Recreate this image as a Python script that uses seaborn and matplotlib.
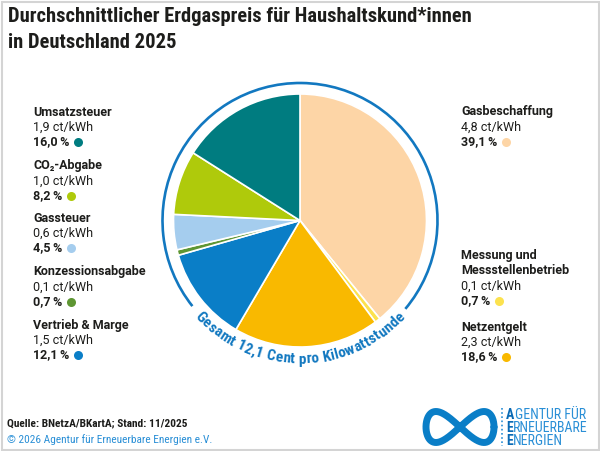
import numpy as np
import matplotlib
matplotlib.use("Agg")
import matplotlib.pyplot as plt
import seaborn as sns
from matplotlib.patches import Arc, Rectangle
from matplotlib.font_manager import FontProperties

# ---------------- data ----------------
categories = ["Gasbeschaffung", "Messung und\nMessstellenbetrieb", "Netzentgelt",
              "Vertrieb & Marge", "Konzessionsabgabe", "Gassteuer",
              "CO₂-Abgabe", "Umsatzsteuer"]
cents = [4.8, 0.1, 2.3, 1.5, 0.1, 0.6, 1.0, 1.9]
shares = [39.1, 0.7, 18.6, 12.1, 0.7, 4.5, 8.2, 16.0]
hex_colors = ["#FDD5A6", "#FCE24E", "#F9B900", "#0A7EC7",
              "#5E9633", "#A5CDEE", "#AFCA0B", "#007C80"]
title_lines = ["Durchschnittlicher Erdgaspreis für Haushaltskund*innen",
               "in Deutschland 2025"]
ring_text = "Gesamt 12,1 Cent pro Kilowattstunde"
source_text = "Quelle: BNetzA/BKartA; Stand: 11/2025"
copyright_text = "© 2026 Agentur für Erneuerbare Energien e.V."
logo_lines = ["AGENTUR FÜR", "ERNEUERBARE", "ENERGIEN"]

# ---------------- style ----------------
sns.set_theme(style="white")
FONT = ["Roboto Condensed", "Roboto", "DejaVu Sans"]
LFONT = ["Roboto", "DejaVu Sans"]
plt.rcParams["font.family"] = FONT
palette = sns.color_palette(hex_colors)

W, H = 600, 451
fig = plt.figure(figsize=(W / 100, H / 100), dpi=100)
ax = fig.add_axes([0, 0, 1, 1])
renderer = fig.canvas.get_renderer()

def Y(py):
    return H - py

BLUE = "#1278C0"
LBLUE = "#2A8FD6"
TXT = "#1d1d1b"

cx, cy, R = 300, Y(220.5), 126.5
ax.pie(shares, colors=palette, startangle=90, counterclock=False,
       center=(cx, cy), radius=R, frame=True,
       wedgeprops=dict(edgecolor="white", linewidth=1.2))
ax.set_xlim(0, W)
ax.set_ylim(0, H)
ax.set_aspect("equal")
ax.axis("off")

# outer ring with gap
ring_r = 137.5
ax.add_patch(Arc((cx, cy), 2 * ring_r, 2 * ring_r, theta1=-40, theta2=218.5,
                 color=BLUE, lw=1.9))

# curved text along the bottom of the ring
fp = FontProperties(family=FONT, weight="bold", size=11)
def tw(s):
    if not s:
        return 0.0
    w, h, d = renderer.get_text_width_height_descent(s, fp, ismath=False)
    return w
cum = [tw(ring_text[:i]) for i in range(len(ring_text) + 1)]
centers = [(cum[i] + cum[i + 1]) / 2 for i in range(len(ring_text))]
a0, a1 = 224.0, 316.0
c0, c1 = centers[0], centers[-1]
r_base = 143
for ch, c in zip(ring_text, centers):
    ang = a0 + (c - c0) / (c1 - c0) * (a1 - a0)
    t = np.deg2rad(ang)
    ax.text(cx + r_base * np.cos(t), cy + r_base * np.sin(t), ch,
            rotation=ang - 270, rotation_mode="anchor", ha="center",
            va="baseline", fontproperties=fp, color=BLUE)

# title
for i, line in enumerate(title_lines):
    ax.text(8, Y(17 + 25.5 * i), line, fontsize=14.8, fontweight="bold",
            color=TXT, ha="left", va="center")

# labels
label_pos = {  # x, y of first line centre
    "Umsatzsteuer": (33, 112),
    "CO₂-Abgabe": (33, 166),
    "Gassteuer": (33, 218),
    "Konzessionsabgabe": (33, 272),
    "Vertrieb & Marge": (33, 325),
    "Gasbeschaffung": (461, 112),
    "Messung und\nMessstellenbetrieb": (461, 256),
    "Netzentgelt": (461, 327),
}
LS = 15
for name, ct, sh, col in zip(categories, cents, shares, palette):
    x, y = label_pos[name]
    lines = name.split("\n")
    for j, ln in enumerate(lines):
        ax.text(x, Y(y + LS * j), ln, fontsize=9, fontweight="bold",
                family=LFONT, color=TXT, ha="left", va="center")
    n = len(lines)
    ax.text(x, Y(y + LS * n), f"{ct:.1f} ct/kWh".replace(".", ","),
            fontsize=9, family=LFONT, color=TXT, ha="left", va="center")
    pt = ax.text(x, Y(y + LS * (n + 1)), f"{sh:.1f}\u2009%".replace(".", ","),
                 fontsize=9, fontweight="bold", family=LFONT, color=TXT,
                 ha="left", va="center")
    bb = pt.get_window_extent(renderer)
    ax.plot([bb.x1 + 9], [Y(y + LS * (n + 1))], marker="o", ms=6.5,
            color=col, mec="none")

# footer
ax.text(7, Y(423), source_text, fontsize=8.2, fontweight="bold", color=TXT,
        ha="left", va="center")
ax.text(7, Y(440), copyright_text, fontsize=8.2, color=LBLUE,
        ha="left", va="center")

# logo
t = np.linspace(0, 2 * np.pi, 400)
lx, ly = 460, Y(427)
ax.plot(lx + 34 * np.cos(t), ly + 15.5 * np.sin(2 * t), color="#0A7EC7",
        lw=5, solid_capstyle="round")
ax.plot([502, 502], [Y(408), Y(446)], color=LBLUE, lw=1.2, ls=(0, (1, 1.5)))
for i, line in enumerate(logo_lines):
    yy = Y(415 + 13 * i)
    first = ax.text(506, yy, line[0], fontsize=10, fontweight="bold",
                    color="#0A6AB4", ha="left", va="center")
    bb = first.get_window_extent(renderer)
    ax.text(bb.x1 + 0.3, yy, line[1:], fontsize=10, color=LBLUE,
            ha="left", va="center")

# border
ax.add_patch(Rectangle((1.5, 1.5), W - 3, H - 3, fill=False,
                       ec="#d4d4d4", lw=1.5))

fig.savefig("out.png", dpi=100)
